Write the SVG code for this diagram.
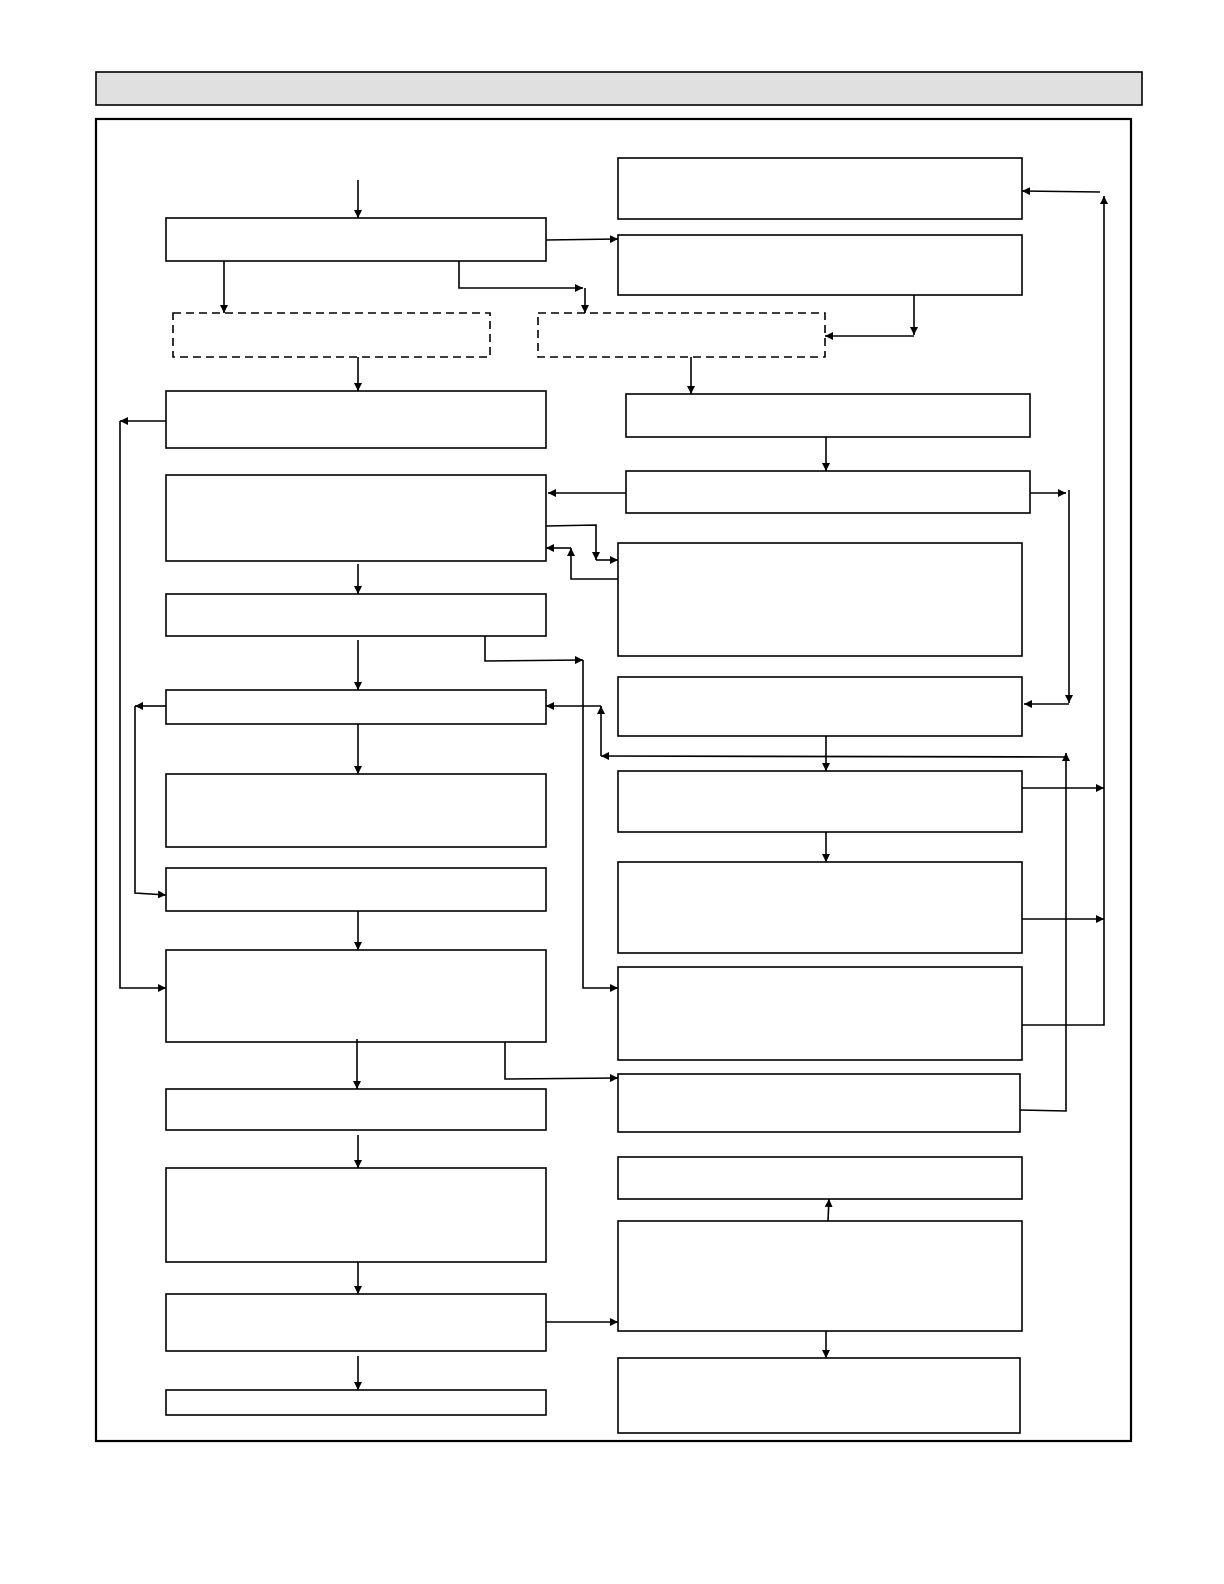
<svg xmlns="http://www.w3.org/2000/svg" width="1224" height="1584" viewBox="0 0 1224 1584">
<defs>
<style>
.b{fill:#fff;stroke:#000;stroke-width:1.6}
.d{fill:#fff;stroke:#000;stroke-width:1.6;stroke-dasharray:8,5}
.c{fill:none;stroke:#000;stroke-width:1.6}
.a{marker-end:url(#ah)}
</style>
<marker id="ah" viewBox="0 0 10 10" refX="10" refY="5" markerWidth="8" markerHeight="8" markerUnits="userSpaceOnUse" orient="auto"><path d="M0,0L10,5L0,10z" fill="#000"/></marker>
</defs>
<rect width="1224" height="1584" fill="#fff"/>
<rect id="header" x="96" y="72" width="1046" height="33" fill="#e0e0e0" stroke="#000" stroke-width="1.6"/>
<rect id="frame" x="96" y="119" width="1035" height="1322" fill="none" stroke="#000" stroke-width="2.2"/>
<g id="L1"><rect class="b" x="166" y="218" width="380" height="43"/></g>
<g id="L2"><rect class="d" x="173" y="313" width="317" height="44"/></g>
<g id="R2"><rect class="d" x="538" y="313" width="287" height="44"/></g>
<g id="L3"><rect class="b" x="166" y="391" width="380" height="57"/></g>
<g id="L4"><rect class="b" x="166" y="475" width="380" height="86"/></g>
<g id="L5"><rect class="b" x="166" y="594" width="380" height="42"/></g>
<g id="L6"><rect class="b" x="166" y="690" width="380" height="34"/></g>
<g id="L7"><rect class="b" x="166" y="774" width="380" height="73"/></g>
<g id="L8"><rect class="b" x="166" y="868" width="380" height="43"/></g>
<g id="L9"><rect class="b" x="166" y="950" width="380" height="92"/></g>
<g id="L10"><rect class="b" x="166" y="1089" width="380" height="41"/></g>
<g id="L11"><rect class="b" x="166" y="1168" width="380" height="94"/></g>
<g id="L12"><rect class="b" x="166" y="1294" width="380" height="57"/></g>
<g id="L13"><rect class="b" x="166" y="1390" width="380" height="25"/></g>
<g id="R0"><rect class="b" x="618" y="158" width="404" height="61"/></g>
<g id="R1"><rect class="b" x="618" y="235" width="404" height="60"/></g>
<g id="R3"><rect class="b" x="626" y="394" width="404" height="43"/></g>
<g id="R4"><rect class="b" x="626" y="471" width="404" height="42"/></g>
<g id="R5"><rect class="b" x="618" y="543" width="404" height="113"/></g>
<g id="R6"><rect class="b" x="618" y="677" width="404" height="59"/></g>
<g id="R7"><rect class="b" x="618" y="771" width="404" height="61"/></g>
<g id="R8"><rect class="b" x="618" y="862" width="404" height="91"/></g>
<g id="R9"><rect class="b" x="618" y="967" width="404" height="93"/></g>
<g id="R10"><rect class="b" x="618" y="1074" width="402" height="58"/></g>
<g id="R11"><rect class="b" x="618" y="1157" width="404" height="42"/></g>
<g id="R12"><rect class="b" x="618" y="1221" width="404" height="110"/></g>
<g id="R13"><rect class="b" x="618" y="1358" width="402" height="75"/></g>
<g id="connectors">
<path class="c a" d="M358,180V218"/>
<path class="c a" d="M546,240L618,239"/>
<path class="c a" d="M224,261V313"/>
<path class="c a" d="M459,261V288H583"/>
<path class="c a" d="M585,288V313"/>
<path class="c a" d="M914,295V335"/>
<path class="c a" d="M914,336H825"/>
<path class="c a" d="M358,357V391"/>
<path class="c a" d="M691,357V394"/>
<path class="c a" d="M166,421H120"/>
<path class="c a" d="M120,421V988H166"/>
<path class="c a" d="M826,437V471"/>
<path class="c a" d="M626,493H548"/>
<path class="c a" d="M1030,493H1066"/>
<path class="c a" d="M1069,490V703"/>
<path class="c a" d="M1069,704H1024"/>
<path class="c a" d="M546,526L596,525V560"/>
<path class="c a" d="M596,560H618"/>
<path class="c a" d="M618,579H571V548"/>
<path class="c a" d="M571,548H546"/>
<path class="c a" d="M358,564V594"/>
<path class="c a" d="M485,636V661L583,660"/>
<path class="c a" d="M583,660V988H618"/>
<path class="c a" d="M358,640V690"/>
<path class="c a" d="M601,706H546"/>
<path class="c a" d="M601,756V706"/>
<path class="c a" d="M1066,757L601,756"/>
<path class="c a" d="M1020,1110L1066,1111V753"/>
<path class="c a" d="M166,706H135"/>
<path class="c a" d="M135,706V893L166,895"/>
<path class="c a" d="M358,724V774"/>
<path class="c a" d="M826,736V771"/>
<path class="c a" d="M826,832V862"/>
<path class="c a" d="M1022,788H1104"/>
<path class="c a" d="M1022,919H1104"/>
<path class="c a" d="M1022,1025H1104V196"/>
<path class="c a" d="M1100,192L1022,191"/>
<path class="c a" d="M358,911V950"/>
<path class="c a" d="M357,1039V1089"/>
<path class="c a" d="M505,1042V1079L618,1078"/>
<path class="c a" d="M358,1135V1168"/>
<path class="c a" d="M828,1221L829,1199"/>
<path class="c a" d="M358,1262V1294"/>
<path class="c a" d="M546,1322H618"/>
<path class="c a" d="M826,1331V1358"/>
<path class="c a" d="M358,1356V1390"/>
</g>
</svg>
